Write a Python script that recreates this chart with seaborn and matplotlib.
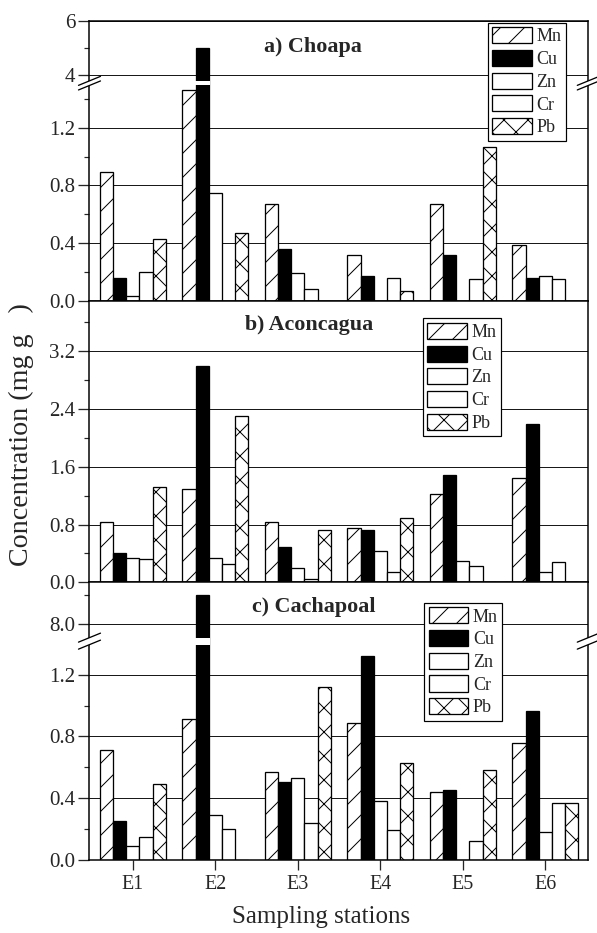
import numpy as np
import pandas as pd
import matplotlib
matplotlib.use("Agg")
import matplotlib.pyplot as plt
import matplotlib.transforms as mtrans
from matplotlib.patches import Rectangle, Polygon
from matplotlib.lines import Line2D
from matplotlib.ticker import FixedLocator, FixedFormatter
import seaborn as sns

# ---------------- data ----------------
stations = ["E1", "E2", "E3", "E4", "E5", "E6"]
metals = ["Mn", "Cu", "Zn", "Cr", "Pb"]

# a) Choapa
choapa_mn = [0.89, 1.46, 0.67, 0.32, 0.67, 0.39]
choapa_cu = [0.16, 5.00, 0.36, 0.17, 0.32, 0.16]
choapa_zn = [0.03, 0.75, 0.19, 0.00, 0.00, 0.17]
choapa_cr = [0.20, 0.00, 0.08, 0.16, 0.15, 0.15]
choapa_pb = [0.43, 0.47, 0.00, 0.07, 1.07, 0.00]

# b) Aconcagua
aconcagua_mn = [0.83, 1.29, 0.84, 0.75, 1.22, 1.44]
aconcagua_cu = [0.40, 3.00, 0.49, 0.73, 1.49, 2.19]
aconcagua_zn = [0.33, 0.34, 0.20, 0.44, 0.30, 0.14]
aconcagua_cr = [0.32, 0.26, 0.04, 0.14, 0.23, 0.28]
aconcagua_pb = [1.32, 2.31, 0.73, 0.89, 0.00, 0.00]

# c) Cachapoal
cachapoal_mn = [0.71, 0.915, 0.57, 0.89, 0.44, 0.76]
cachapoal_cu = [0.25, 8.50, 0.505, 1.32, 0.45, 0.965]
cachapoal_zn = [0.09, 0.29, 0.53, 0.38, 0.00, 0.18]
cachapoal_cr = [0.15, 0.20, 0.24, 0.19, 0.12, 0.37]
cachapoal_pb = [0.49, 0.00, 1.12, 0.63, 0.58, 0.37]

panel_titles = ["a) Choapa", "b) Aconcagua", "c) Cachapoal"]
panel_values = [
    [choapa_mn, choapa_cu, choapa_zn, choapa_cr, choapa_pb],
    [aconcagua_mn, aconcagua_cu, aconcagua_zn, aconcagua_cr, aconcagua_pb],
    [cachapoal_mn, cachapoal_cu, cachapoal_zn, cachapoal_cr, cachapoal_pb],
]
major_ticks = [[0.0, 0.4, 0.8, 1.2, 4, 6],
               [0.0, 0.8, 1.6, 2.4, 3.2],
               [0.0, 0.4, 0.8, 1.2, 8.0]]
major_labels = [["0.0", "0.4", "0.8", "1.2", "4", "6"],
                ["0.0", "0.8", "1.6", "2.4", "3.2"],
                ["0.0", "0.4", "0.8", "1.2", "8.0"]]
minor_ticks = [[0.2, 0.6, 1.0, 1.4, 5.0],
               [0.4, 1.2, 2.0, 2.8, 3.6],
               [0.2, 0.6, 1.0, 8.5]]
y_tops = [6.0, 3.9, 8.72]
# axis breaks: (lower value at break, upper value at break, upper/lower scale ratio)
breaks = [(1.51, 3.70, 0.1876), None, (1.418, 7.715, 0.38)]

# ---------------- style ----------------
sns.set_style("ticks")
plt.rcParams["font.family"] = ["Liberation Serif", "DejaVu Serif"]
plt.rcParams["hatch.linewidth"] = 1.0
plt.rcParams["axes.linewidth"] = 1.5

DPI = 72
FW, FH = 597, 933
fig = plt.figure(figsize=(FW / DPI, FH / DPI), dpi=DPI)

palette = {"Mn": "white", "Cu": "black", "Zn": "white", "Cr": "white", "Pb": "white"}
hatches = {"Mn": "/", "Cu": "", "Zn": "", "Cr": "", "Pb": "x"}

left, width = 0.1499, 0.8355
positions = [(0.6777, 0.2998), (0.3759, 0.3018), (0.0786, 0.2973)]
legend_anchor = [(0.955, 0.994), (0.825, 0.9375), (0.828, 0.926)]
title_pos = [(0.447, 0.908), (0.441, 0.912), (0.449, 0.910)]
gap_px = [4.6, 7.0]


def make_break_funcs(lo, hi, r):
    def fwd(v):
        v = np.asarray(v, dtype=float)
        return np.where(v <= lo, v, np.where(v >= hi, lo + (v - hi) * r, lo))

    def inv(u):
        u = np.asarray(u, dtype=float)
        return np.where(u <= lo, u, hi + (u - lo) / r)
    return fwd, inv


def draw_break(ax, yfrac, gap):
    bb = ax.get_position()
    W = bb.width * FW
    H = bb.height * FH
    dx = 11.0 / W
    dy = 4.5 / H
    sep = gap / H
    for xs in (0.0, 1.0):
        y1a = yfrac - sep / 2 - dy
        y1b = yfrac - sep / 2 + dy
        poly = Polygon([(xs - dx, y1a), (xs + dx, y1b), (xs + dx, y1b + sep), (xs - dx, y1a + sep)],
                       closed=True, transform=ax.transAxes, facecolor="white",
                       edgecolor="none", zorder=10, clip_on=False)
        ax.add_patch(poly)
        for off in (0.0, sep):
            ax.add_line(Line2D([xs - dx, xs + dx], [y1a + off, y1b + off],
                               transform=ax.transAxes, color="black", lw=1.3,
                               zorder=11, clip_on=False))


axes = []
for i in range(3):
    y0, h = positions[i]
    ax = fig.add_axes([left, y0, width, h])
    axes.append(ax)
    rows = []
    for m, vals in zip(metals, panel_values[i]):
        for s, v in zip(stations, vals):
            rows.append({"station": s, "metal": m, "value": v})
    df = pd.DataFrame(rows)
    sns.barplot(data=df, x="station", y="value", hue="metal", order=stations,
                hue_order=metals, palette=palette, saturation=1, errorbar=None,
                edgecolor="black", linewidth=1.3, width=0.8, legend=False, ax=ax)
    for cont, m in zip(ax.containers, metals):
        for p in cont.patches:
            p.set_hatch(hatches[m])
            p.set_zorder(3)

    brk = breaks[i]
    if brk is not None:
        fwd, inv = make_break_funcs(*brk)
        ax.set_yscale("function", functions=(fwd, inv))
    ax.set_ylim(0, y_tops[i])
    ax.set_xlim(-0.525, 5.52)
    ax.yaxis.set_major_locator(FixedLocator(major_ticks[i]))
    ax.yaxis.set_major_formatter(FixedFormatter(major_labels[i]))
    ax.yaxis.set_minor_locator(FixedLocator(minor_ticks[i]))
    ax.set_axisbelow(True)
    ax.yaxis.grid(True, which="major", color="black", lw=0.9)
    ax.xaxis.grid(False)
    ax.tick_params(axis="y", which="major", direction="out", length=11, width=1.3,
                   labelsize=21, pad=3, right=False)
    ax.tick_params(axis="y", which="minor", direction="out", length=5, width=1.2, right=False)
    ax.tick_params(axis="x", which="major", direction="out", length=10, width=1.3,
                   labelsize=20, pad=5, top=False)
    ax.set_xlabel("")
    ax.set_ylabel("")
    if i < 2:
        ax.tick_params(axis="x", labelbottom=False)
    for sp in ax.spines.values():
        sp.set_linewidth(1.5)
        sp.set_color("black")
        sp.set_zorder(6)

    ax.text(title_pos[i][0], title_pos[i][1], panel_titles[i], transform=ax.transAxes,
            ha="center", va="center", fontsize=22, fontweight="bold")

    handles = [cont.patches[0] for cont in ax.containers]
    leg = ax.legend(handles, metals, loc="upper right", bbox_to_anchor=legend_anchor[i],
                    bbox_transform=ax.transAxes, borderaxespad=0, fontsize=18,
                    handlelength=2.2, handleheight=1.0, labelspacing=0.25,
                    handletextpad=0.26, borderpad=0.25, fancybox=False, framealpha=1,
                    edgecolor="black")
    leg.get_frame().set_linewidth(1.2)
    leg.set_zorder(12)

    if brk is not None:
        lo, hi, r = brk
        fwd, _ = make_break_funcs(*brk)
        yfrac = float(fwd(lo) / fwd(y_tops[i]))
        g = gap_px[0] if i == 0 else gap_px[1]
        H = ax.get_position().height * FH
        blend = mtrans.blended_transform_factory(ax.transData, ax.transAxes)
        for cont in ax.containers:
            for p in cont.patches:
                if p.get_height() > hi:
                    ax.add_patch(Rectangle((p.get_x() - 0.02, yfrac - g / 2 / H),
                                           p.get_width() + 0.04, g / H, transform=blend,
                                           facecolor="white", edgecolor="none", zorder=5))
        draw_break(ax, yfrac, g)

fig.text(0.0363, 0.534, "Concentration (mg g   )", rotation=90, ha="center", va="center",
         fontsize=28)
fig.text(0.538, 0.0107, "Sampling stations", ha="center", va="baseline", fontsize=25)

fig.savefig("out.png", dpi=DPI)
